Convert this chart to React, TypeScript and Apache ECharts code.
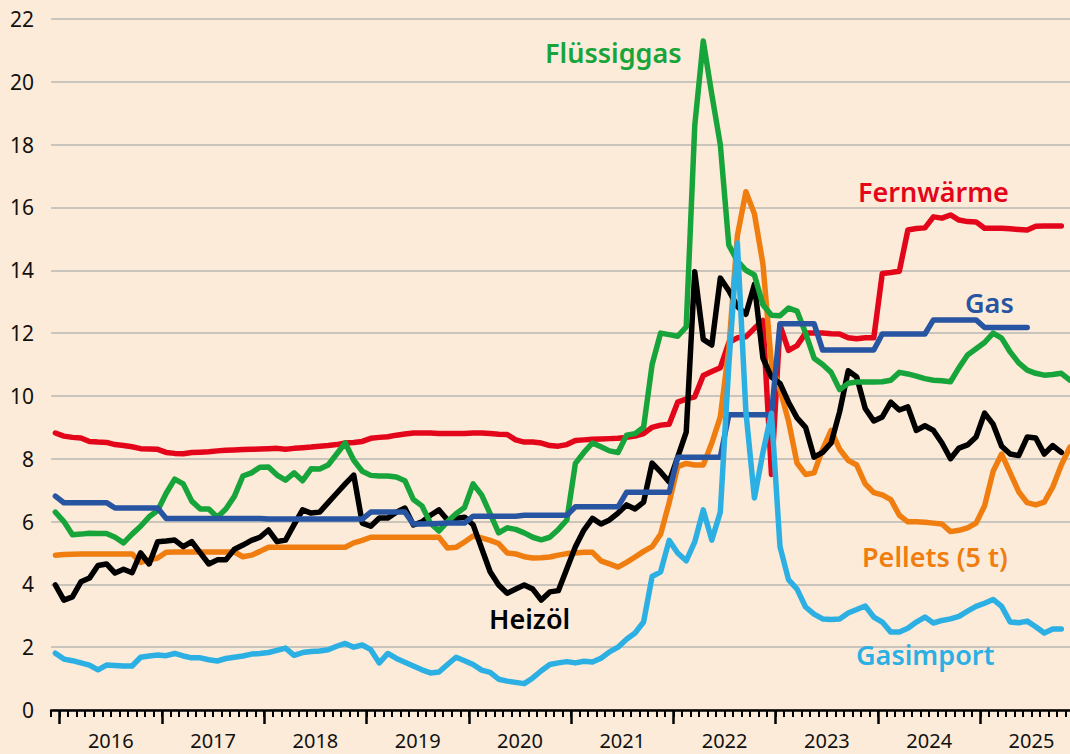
import React, { useEffect, useRef } from "react";
import * as echarts from "echarts";

// Monthly categories, Dec 2015 .. Nov 2025
const START_YEAR = 2015;
const START_MONTH = 12;
const MONTH_COUNT = 120;
const months: string[] = [];
for (let k = 0; k < MONTH_COUNT; k++) {
  const t = START_MONTH - 1 + k;
  const y = START_YEAR + Math.floor(t / 12);
  const m = (t % 12) + 1;
  months.push(`${y}-${String(m).padStart(2, "0")}`);
}

const yTicks = [0, 2, 4, 6, 8, 10, 12, 14, 16, 18, 20, 22];

const fernwaerme = [
  8.82, 8.72, 8.68, 8.66, 8.55, 8.53, 8.52, 8.45, 8.42, 8.38,
  8.32, 8.31, 8.30, 8.20, 8.17, 8.16, 8.20, 8.21, 8.22, 8.25,
  8.27, 8.28, 8.29, 8.30, 8.31, 8.32, 8.33, 8.30, 8.33, 8.35,
  8.37, 8.40, 8.42, 8.45, 8.50, 8.52, 8.55, 8.65, 8.68, 8.70,
  8.75, 8.79, 8.82, 8.82, 8.82, 8.80, 8.80, 8.80, 8.80, 8.82,
  8.82, 8.80, 8.78, 8.77, 8.60, 8.53, 8.53, 8.50, 8.42, 8.40,
  8.45, 8.58, 8.60, 8.62, 8.63, 8.64, 8.65, 8.68, 8.72, 8.80,
  9.00, 9.07, 9.10, 9.80, 9.90, 9.97, 10.65, 10.78, 10.90, 11.70,
  11.85, 11.88, 12.15, 12.40, 7.50, 12.25, 11.45, 11.60, 12.00, 12.00,
  12.00, 11.98, 11.97, 11.85, 11.82, 11.85, 11.85, 13.90, 13.93, 13.97,
  15.28, 15.33, 15.35, 15.70, 15.66, 15.76, 15.60, 15.55, 15.54, 15.34,
  15.34, 15.34, 15.32, 15.30, 15.28, 15.40, 15.41, 15.41, 15.41, null,
];

const fluessiggas = [
  6.30, 6.00, 5.58, 5.60, 5.63, 5.62, 5.62, 5.50, 5.32, 5.60,
  5.85, 6.15, 6.35, 6.90, 7.35, 7.20, 6.65, 6.40, 6.40, 6.14,
  6.40, 6.80, 7.45, 7.55, 7.73, 7.74, 7.48, 7.32, 7.55, 7.30,
  7.68, 7.67, 7.80, 8.15, 8.50, 7.95, 7.60, 7.47, 7.45, 7.45,
  7.42, 7.30, 6.70, 6.50, 5.95, 5.70, 6.00, 6.25, 6.45, 7.20,
  6.85, 6.25, 5.64, 5.80, 5.75, 5.64, 5.50, 5.42, 5.50, 5.75,
  6.05, 7.85, 8.20, 8.50, 8.38, 8.25, 8.20, 8.75, 8.80, 9.00,
  11.00, 12.00, 11.95, 11.90, 12.20, 18.60, 21.30, 19.60, 18.00, 14.80,
  14.30, 14.00, 13.85, 12.90, 12.57, 12.55, 12.80, 12.70, 12.00, 11.20,
  11.00, 10.75, 10.20, 10.40, 10.44, 10.44, 10.44, 10.45, 10.50, 10.75,
  10.70, 10.63, 10.55, 10.50, 10.48, 10.45, 10.90, 11.30, 11.50, 11.70,
  12.00, 11.84, 11.40, 11.05, 10.82, 10.72, 10.66, 10.68, 10.72, 10.50,
];

const heizoel = [
  3.98, 3.50, 3.60, 4.08, 4.20, 4.60, 4.65, 4.36, 4.48, 4.37,
  5.00, 4.65, 5.36, 5.38, 5.41, 5.20, 5.36, 5.00, 4.65, 4.78,
  4.78, 5.12, 5.25, 5.40, 5.50, 5.73, 5.36, 5.41, 5.90, 6.37,
  6.27, 6.30, 6.60, 6.90, 7.20, 7.48, 5.95, 5.85, 6.11, 6.11,
  6.30, 6.43, 5.89, 5.99, 6.20, 6.37, 6.05, 6.10, 6.14, 5.90,
  5.15, 4.40, 3.98, 3.72, 3.85, 3.98, 3.85, 3.50, 3.76, 3.80,
  4.50, 5.20, 5.73, 6.10, 5.92, 6.05, 6.27, 6.53, 6.40, 6.62,
  7.86, 7.58, 7.26, 8.05, 8.85, 13.95, 11.80, 11.62, 13.75, 13.35,
  12.85, 12.60, 13.55, 11.20, 10.60, 10.40, 9.80, 9.30, 9.00, 8.05,
  8.20, 8.50, 9.50, 10.80, 10.60, 9.60, 9.20, 9.33, 9.80, 9.55,
  9.65, 8.90, 9.05, 8.90, 8.50, 8.00, 8.34, 8.44, 8.69, 9.45,
  9.10, 8.40, 8.15, 8.10, 8.69, 8.66, 8.15, 8.42, 8.20, null,
];

const gas = [
  6.81, 6.60, 6.60, 6.60, 6.60, 6.60, 6.60, 6.43, 6.43, 6.43,
  6.43, 6.43, 6.43, 6.10, 6.10, 6.10, 6.10, 6.10, 6.10, 6.10,
  6.10, 6.10, 6.10, 6.10, 6.10, 6.08, 6.08, 6.08, 6.08, 6.08,
  6.08, 6.08, 6.08, 6.08, 6.08, 6.08, 6.08, 6.30, 6.30, 6.30,
  6.30, 6.30, 5.92, 5.92, 5.93, 5.94, 5.95, 5.95, 5.95, 6.17,
  6.17, 6.17, 6.17, 6.17, 6.17, 6.20, 6.20, 6.20, 6.20, 6.20,
  6.20, 6.47, 6.47, 6.47, 6.47, 6.47, 6.47, 6.93, 6.93, 6.93,
  6.93, 6.93, 6.93, 8.05, 8.05, 8.05, 8.05, 8.05, 8.05, 9.40,
  9.40, 9.40, 9.40, 9.40, 9.40, 12.30, 12.30, 12.30, 12.30, 12.30,
  11.46, 11.46, 11.46, 11.46, 11.46, 11.46, 11.46, 11.97, 11.97, 11.97,
  11.97, 11.97, 11.97, 12.42, 12.42, 12.42, 12.42, 12.42, 12.42, 12.18,
  12.18, 12.18, 12.18, 12.18, 12.18, null, null, null, null, null,
];

const pellets = [
  4.93, 4.95, 4.96, 4.97, 4.97, 4.97, 4.97, 4.97, 4.97, 4.97,
  4.70, 4.78, 4.84, 5.02, 5.03, 5.03, 5.03, 5.03, 5.03, 5.03,
  5.03, 5.03, 4.88, 4.93, 5.05, 5.18, 5.18, 5.18, 5.18, 5.18,
  5.18, 5.18, 5.18, 5.18, 5.18, 5.32, 5.40, 5.50, 5.50, 5.50,
  5.50, 5.50, 5.50, 5.50, 5.50, 5.50, 5.16, 5.18, 5.35, 5.54,
  5.48, 5.40, 5.30, 5.00, 4.97, 4.88, 4.84, 4.85, 4.87, 4.93,
  4.98, 5.00, 5.02, 5.02, 4.75, 4.65, 4.55, 4.70, 4.87, 5.05,
  5.20, 5.60, 6.60, 7.75, 7.85, 7.80, 7.80, 8.50, 9.33, 11.50,
  15.10, 16.50, 15.80, 14.20, 11.00, 10.20, 9.20, 7.86, 7.50, 7.55,
  8.30, 8.90, 8.30, 7.95, 7.80, 7.20, 6.92, 6.85, 6.70, 6.20,
  5.99, 5.99, 5.98, 5.95, 5.92, 5.68, 5.72, 5.80, 5.95, 6.50,
  7.60, 8.15, 7.55, 6.95, 6.60, 6.53, 6.62, 7.10, 7.80, 8.37,
];

const gasimport = [
  1.81, 1.62, 1.57, 1.50, 1.43, 1.28, 1.43, 1.42, 1.40, 1.40,
  1.68, 1.72, 1.75, 1.73, 1.80, 1.72, 1.66, 1.66, 1.60, 1.56,
  1.64, 1.68, 1.72, 1.78, 1.80, 1.83, 1.90, 1.97, 1.74, 1.83,
  1.86, 1.88, 1.92, 2.03, 2.12, 2.00, 2.07, 1.92, 1.50, 1.80,
  1.64, 1.52, 1.40, 1.28, 1.18, 1.21, 1.45, 1.68, 1.57, 1.45,
  1.27, 1.20, 0.98, 0.92, 0.88, 0.84, 1.02, 1.25, 1.45, 1.50,
  1.54, 1.50, 1.55, 1.53, 1.65, 1.85, 2.00, 2.25, 2.45, 2.80,
  4.25, 4.40, 5.40, 5.00, 4.75, 5.35, 6.37, 5.41, 6.30, 11.00,
  14.87, 9.50, 6.75, 8.20, 9.45, 5.20, 4.15, 3.85, 3.28, 3.05,
  2.90, 2.88, 2.90, 3.09, 3.20, 3.31, 2.96, 2.80, 2.48, 2.48,
  2.60, 2.80, 2.96, 2.77, 2.85, 2.90, 2.98, 3.15, 3.30, 3.40,
  3.52, 3.30, 2.80, 2.78, 2.83, 2.65, 2.45, 2.58, 2.58, null,
];

const seriesNames = ["Fernwärme", "Pellets (5 t)", "Heizöl", "Flüssiggas", "Gas", "Gasimport"];
const seriesColors = ["#e3061b", "#f07d10", "#000000", "#17a43a", "#2855a2", "#2cb0e4"];
const seriesData = [fernwaerme, pellets, heizoel, fluessiggas, gas, gasimport];

const labelTexts = ["Flüssiggas", "Fernwärme", "Gas", "Heizöl", "Pellets (5 t)", "Gasimport"];
const labelColors = ["#17a43a", "#e3061b", "#2855a2", "#000000", "#f07d10", "#2cb0e4"];

const BG = "#fcebd8";
const FONT = "'Noto Sans', 'Open Sans', sans-serif";

export default function App() {
  const ref = useRef<HTMLDivElement>(null);
  useEffect(() => {
    if (!ref.current) return;
    const chart = echarts.init(ref.current, undefined, { renderer: "svg" });
    const labelPos = [
      [545, 52],
      [858, 191],
      [965, 302],
      [489, 618],
      [862, 556],
      [856, 654],
    ];
    chart.setOption({
      animation: false,
      backgroundColor: BG,
      grid: { left: 51.1, right: 5.9, top: 19, bottom: 44, containLabel: false },
      xAxis: [
        {
          type: "category",
          data: months,
          boundaryGap: true,
          axisLine: { show: true, lineStyle: { color: "#000", width: 2.5 } },
          axisTick: { show: true, interval: 0, length: 7, lineStyle: { color: "#000", width: 2 } },
          axisLabel: {
            show: true,
            interval: (i: number, v: string) => v.endsWith("-07"),
            formatter: (v: string) => v.slice(0, 4),
            color: "#111",
            fontSize: 20,
            fontFamily: FONT,
            margin: 20,
            padding: [0, 8.5, 0, 0],
          },
          splitLine: { show: false },
          z: 10,
        },
        {
          type: "category",
          data: months,
          boundaryGap: true,
          position: "bottom",
          axisLine: { show: false },
          axisTick: {
            show: true,
            interval: (i: number, v: string) => v.endsWith("-01"),
            length: 14,
            lineStyle: { color: "#000", width: 2.5 },
          },
          axisLabel: { show: false },
          splitLine: { show: false },
          z: 10,
        },
      ],
      yAxis: {
        type: "value",
        min: yTicks[0],
        max: yTicks[yTicks.length - 1],
        interval: 2,
        axisLine: { show: false },
        axisTick: { show: false },
        axisLabel: { color: "#111", fontSize: 21, fontFamily: FONT, margin: 17 },
        splitLine: { show: true, lineStyle: { color: "#b9b8b4", width: 1.5 } },
      },
      series: seriesData.map((d, k) => ({
        type: "line",
        name: seriesNames[k],
        data: d,
        xAxisIndex: 0,
        showSymbol: false,
        symbol: "none",
        connectNulls: false,
        lineStyle: { color: seriesColors[k], width: 5.5, cap: "round", join: "round" },
        z: 2 + k,
      })),
      graphic: labelTexts.map((t, k) => ({
        type: "text",
        x: labelPos[k][0],
        y: labelPos[k][1],
        z: 100,
        style: {
          text: t,
          fill: labelColors[k],
          fontSize: 27,
          fontWeight: 600,
          fontFamily: FONT,
          align: "left",
          verticalAlign: "middle",
        },
      })),
    });
    return () => chart.dispose();
  }, []);
  return (
    <div style={{ position: "fixed", left: 0, top: 0, width: 1070, height: 754, overflow: "hidden", background: BG }}>
      <div ref={ref} style={{ width: 1080, height: 754 }} />
    </div>
  );
}
